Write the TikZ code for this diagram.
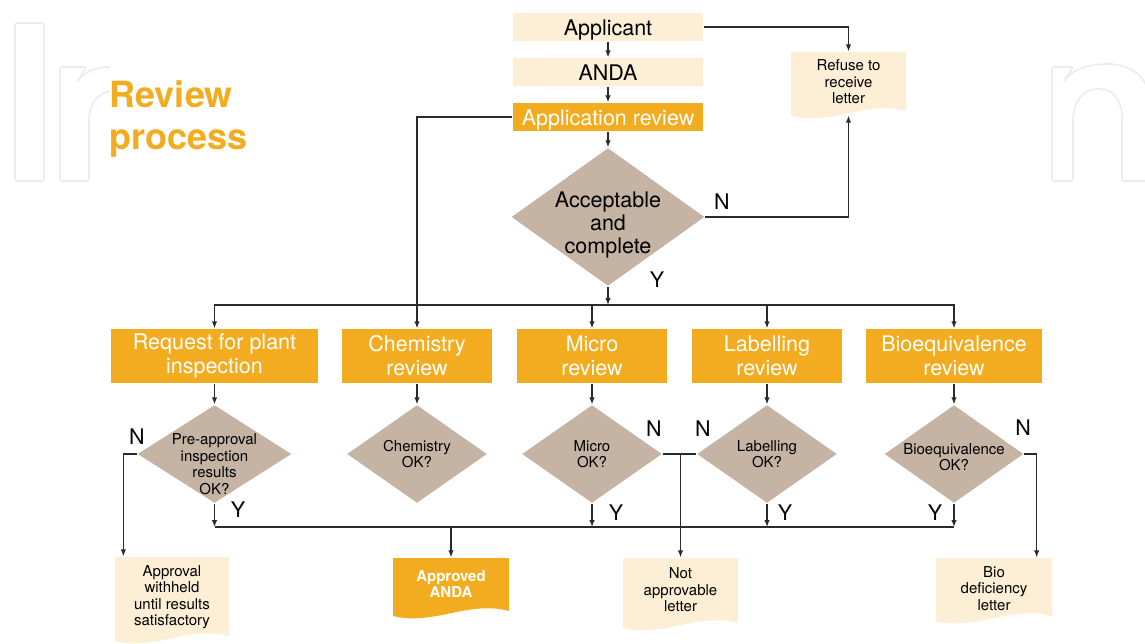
\documentclass[tikz,border=0pt]{standalone}
\usepackage{fontspec}
\setmainfont{TeX Gyre Heros}
\usetikzlibrary{shapes.geometric, arrows.meta, calc}

\definecolor{cream}{HTML}{FCEFD5}
\definecolor{amber}{HTML}{F3AC1F}
\definecolor{taupe}{HTML}{C5B4A4}
\definecolor{ink}{HTML}{2A2A2A}
\definecolor{ghost}{HTML}{ECECEC}

\begin{document}
\begin{tikzpicture}[x = 1pt, y = -1pt, line width = 1.3pt, draw = ink,
    big/.style = {font = \fontsize{21.5}{24}\selectfont},
    small/.style = {font = \fontsize{15}{16.5}\selectfont},
    box/.style 2 args = {rectangle, inner sep = 0pt, big, minimum width = #1pt, minimum height = #2pt},
    topbox/.style = {box = {190}{28}, text height = 17pt, text depth = 0pt},
    review/.style = {box = {#1}{54}, align = center, fill = amber, text = white},
    dia/.style 2 args = {diamond, fill = taupe, inner sep = 0pt, minimum width = #1pt, minimum height = #2pt},
    doc/.style 2 args = {rectangle, inner sep = 0pt, minimum width = #1pt, minimum height = #2pt,
        path picture = {\fill[fill = cream] (path picture bounding box.north west) -- (path picture bounding box.north east)
            -- ($(path picture bounding box.south east) + (0, -9)$)
            .. controls ($(path picture bounding box.south west)!0.65!(path picture bounding box.south east) + (0, -20)$)
            and ($(path picture bounding box.south west)!0.35!(path picture bounding box.south east) + (0, 6)$)
            .. ($(path picture bounding box.south west) + (0, -4)$) -- cycle;}},
    orangedoc/.style = {path picture = {\fill[fill = amber] (path picture bounding box.north west) -- (path picture bounding box.north east)
            -- ($(path picture bounding box.south east) + (0, -9)$)
            .. controls ($(path picture bounding box.south west)!0.65!(path picture bounding box.south east) + (0, -20)$)
            and ($(path picture bounding box.south west)!0.35!(path picture bounding box.south east) + (0, 6)$)
            .. ($(path picture bounding box.south west) + (0, -4)$) -- cycle;}},
    words/.style = {small, align = center, yshift = #1pt},
    arr/.style = {draw = ink, -{Latex[length = 7pt, width = 5.5pt]}},
    yn/.style = {big, inner sep = 0pt},
    wm/.style = {draw = ghost, line width = 1.6pt, rounded corners = 2pt}]

    \useasboundingbox[fill = white] (0, 0) rectangle (1145, 644);

    % watermark letters
    \draw[wm] (15, 23) rectangle (44, 181);
    \draw[wm] (89, 120) -- (89, 181) -- (60, 181) -- (60, 67) -- (86, 67) -- (78, 81);
    \draw[wm] (78, 81) .. controls (86, 70) and (98, 67) .. (110, 67);
    \draw[wm] (89, 120) .. controls (89, 104) and (97, 94) .. (110, 91);
    \draw[wm] (1073, 120) -- (1073, 181) -- (1052, 181) -- (1052, 67) -- (1073, 67) -- (1064, 81);
    \draw[wm] (1064, 81) .. controls (1075, 67) and (1093, 64) .. (1108, 64) .. controls (1125, 64) and (1140, 72) .. (1146, 85);
    \draw[wm] (1073, 120) .. controls (1073, 100) and (1085, 89) .. (1098, 89) .. controls (1113, 89) and (1122, 100) .. (1122, 120) -- (1122, 181) -- (1146, 181);

    \node[anchor = north west, align = left, text = amber, font = \fontsize{36}{42}\selectfont\bfseries, inner sep = 0pt] (ttl) at (109, 80) {Review\\process};

    % top chain
    \node[topbox, fill = cream] (app) at (608, 27) {Applicant};
    \node[topbox, fill = cream] (anda) at (608, 72) {ANDA};
    \node[topbox, fill = amber, text = white] (apprev) at (608, 117) {Application review};
    \node[doc = {115}{68}, label = {[words = 4]center:Refuse to\\receive\\letter}] (refuse) at (848.5, 86) {};
    \node[dia = {193}{138}, label = {[big, align = center, yshift = -8pt, font = \fontsize{21.5}{23}\selectfont]center:Acceptable\\and\\complete}] (acc) at (608, 217) {};

    % reviews
    \node[review = 207] (req) at (214.5, 356) {Request for plant\\inspection};
    \node[review = 150] (chem) at (417, 356) {Chemistry\\review};
    \node[review = 150] (micro) at (592, 356) {Micro\\review};
    \node[review = 150] (lab) at (767, 356) {Labelling\\review};
    \node[review = 176] (bio) at (954, 356) {Bioequivalence\\review};

    \node[dia = {154}{98}, label = {[words = -10]center:Pre-approval\\inspection\\results\\OK?}] (dreq) at (214.5, 454) {};
    \node[dia = {140}{98}, label = {[words = 0]center:Chemistry\\OK?}] (dchem) at (417, 454) {};
    \node[dia = {140}{98}, label = {[words = 0]center:Micro\\OK?}] (dmicro) at (592, 454) {};
    \node[dia = {140}{98}, label = {[words = 0]center:Labelling\\OK?}] (dlab) at (767, 454) {};
    \node[dia = {139}{98}, label = {[words = -3]center:Bioequivalence\\OK?}] (dbio) at (954, 454) {};

    % letters
    \node[doc = {114}{88}, label = {[words = 4]center:Approval\\withheld\\until results\\satisfactory}] (withheld) at (172, 601) {};
    \node[doc = {116}{62}, orangedoc, label = {[words = 5, text = white, font = \fontsize{15}{16.5}\selectfont\bfseries]center:Approved\\ANDA}] (appr) at (451, 589) {};
    \node[doc = {115}{74}, label = {[words = 5]center:Not\\approvable\\letter}] (notapp) at (680.5, 595) {};
    \node[doc = {116}{67}, label = {[words = 3]center:Bio\\deficiency\\letter}] (biodef) at (994, 591.5) {};

    \coordinate (bus1) at (608, 305);
    \coordinate (bus2) at (451, 527);

    % connectors
    \draw[arr] (app) -- (anda);
    \draw[arr] (anda) -- (apprev);
    \draw[arr] (apprev) -- (acc);
    \draw[arr] (app.east) -| (refuse.north);
    \draw[arr] (acc.east) -| ([yshift = 5pt]refuse.south);
    \draw[arr] (apprev.west) -| (chem.north);
    \draw[arr] (acc.south) -- (bus1);
    \foreach \n in {req, micro, lab, bio}
        \draw[arr] (bus1) -| (\n.north);
    \foreach \n in {req, chem, micro, lab, bio}
        \draw[arr] (\n.south) -- (d\n.north);
    \foreach \n in {req, micro, lab, bio}
        \draw[arr] (d\n.south) -- (d\n.south |- bus2);
    \draw (dreq.south |- bus2) -- (dbio.south |- bus2);
    \draw[arr] (bus2) -- (appr.north);
    \draw[arr] (dreq.west) -| ([xshift = 9pt]withheld.north west);
    \draw (dmicro.east) -- (dlab.west);
    \draw[arr] (dmicro.east -| notapp.north) -- (notapp.north);
    \draw[arr] (dbio.east) -| ([xshift = -16pt]biodef.north east);

    % Y / N marks
    \node[yn] (nacc) at (722, 202) {N};
    \node[yn] (yacc) at (657, 280) {Y};
    \node[yn] (nreq) at (137, 437) {N};
    \node[yn] (yreq) at (238, 510) {Y};
    \node[yn] (nmicro) at (654, 429) {N};
    \node[yn] (ymicro) at (616, 513) {Y};
    \node[yn] (nlab) at (703, 429) {N};
    \node[yn] (ylab) at (785, 513) {Y};
    \node[yn] (nbio) at (1023, 428) {N};
    \node[yn] (ybio) at (935, 513) {Y};
\end{tikzpicture}
\end{document}
